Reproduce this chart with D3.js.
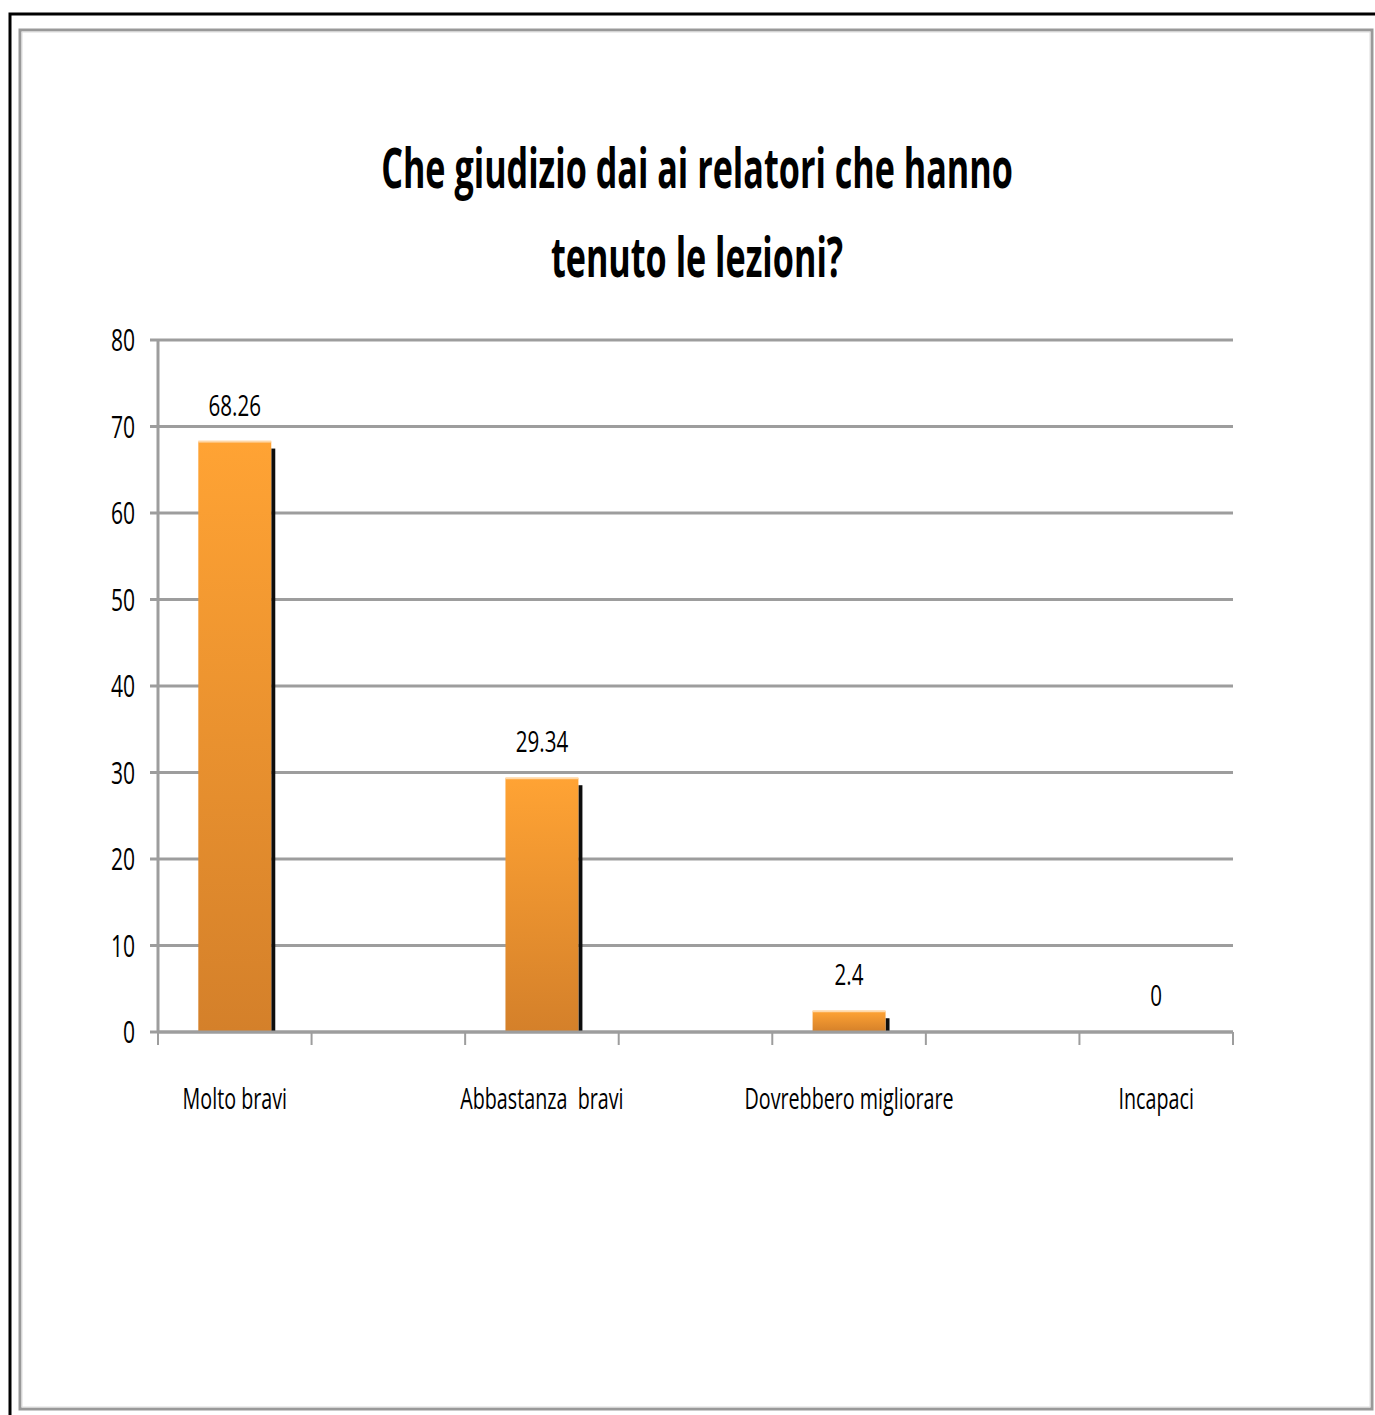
<!DOCTYPE html>
<html>
<head>
<meta charset="utf-8">
<script src="https://cdn.jsdelivr.net/npm/d3@7"></script>
<style>
  body { margin: 0; background: #fff; }
  text { font-family: "Open Sans", sans-serif; fill: #000; white-space: pre; }
</style>
</head>
<body>
<svg id="chart"></svg>
<script>
const categories = ["Molto bravi", "Abbastanza  bravi", "Dovrebbero migliorare", "Incapaci"];
const values = [68.26, 29.34, 2.4, 0];
const valueLabels = ["68.26", "29.34", "2.4", "0"];
const yTicks = [0, 10, 20, 30, 40, 50, 60, 70, 80];
const titleLines = ["Che giudizio dai ai relatori che hanno", "tenuto le lezioni?"];

const width = 1375;
const height = 1415;
const plot = { left: 158, right: 1233, top: 340, bottom: 1032 };

const svg = d3.select("#chart").attr("width", width).attr("height", height);

// gradient for bars
const defs = svg.append("defs");
const grad = defs.append("linearGradient")
  .attr("id", "barGrad")
  .attr("x1", 0).attr("y1", 0).attr("x2", 0).attr("y2", 1);
grad.append("stop").attr("offset", "0%").attr("stop-color", "#ffa334");
grad.append("stop").attr("offset", "100%").attr("stop-color", "#d4802a");
defs.append("filter").attr("id", "blur")
  .append("feGaussianBlur").attr("stdDeviation", 0.6);

// frames
svg.append("rect")
  .attr("x", 10).attr("y", 14)
  .attr("width", width).attr("height", height)
  .attr("fill", "none").attr("stroke", "#000").attr("stroke-width", 3);
svg.append("rect")
  .attr("x", 20).attr("y", 30)
  .attr("width", 1352).attr("height", 1379)
  .attr("fill", "#fff").attr("stroke", "#999").attr("stroke-width", 3);
svg.append("rect")
  .attr("x", 22).attr("y", 32)
  .attr("width", 1348).attr("height", 1375)
  .attr("fill", "none").attr("stroke", "#dcdcdc").attr("stroke-width", 1);

// squeezed text helper (narrow font look)
function label(g, x, y, str, size, anchor, sx, weight) {
  g.append("g")
    .attr("transform", `translate(${x},${y}) scale(${sx},1)`)
    .append("text")
    .attr("text-anchor", anchor)
    .attr("font-size", size)
    .attr("font-weight", weight || "normal")
    .text(str);
}

// title
const titleG = svg.append("g");
titleLines.forEach((t, i) => label(titleG, 697, 188 + i * 89, t, 56, "middle", 0.61, "bold"));

const x = d3.scaleBand()
  .domain(categories)
  .range([plot.left, plot.right])
  .paddingInner(0.5)
  .paddingOuter(0);

const y = d3.scaleLinear()
  .domain([0, 80])
  .range([plot.bottom, plot.top]);

// grid lines
svg.append("g")
  .selectAll("line")
  .data(yTicks)
  .join("line")
  .attr("x1", plot.left - 8)
  .attr("x2", plot.right)
  .attr("y1", (d) => y(d))
  .attr("y2", (d) => y(d))
  .attr("stroke", "#9d9d9d")
  .attr("stroke-width", 3);

// y axis line
svg.append("line")
  .attr("x1", plot.left).attr("x2", plot.left)
  .attr("y1", y(80)).attr("y2", y(0))
  .attr("stroke", "#9d9d9d").attr("stroke-width", 3);

// y tick labels
const yLab = svg.append("g");
yTicks.forEach((t) => label(yLab, 135, y(t) + 11, String(t), 31, "end", 0.68));

// x ticks at band edges
const edges = [];
categories.forEach((c) => {
  edges.push(x(c), x(c) + x.bandwidth());
});
svg.append("g")
  .selectAll("line")
  .data(edges)
  .join("line")
  .attr("x1", (d) => d).attr("x2", (d) => d)
  .attr("y1", y(0)).attr("y2", y(0) + 13)
  .attr("stroke", "#9d9d9d").attr("stroke-width", 2);

// bars
const barW = x.bandwidth() * 0.475;
const bars = svg.append("g")
  .selectAll("g")
  .data(categories.map((c, i) => ({ c, v: values[i], l: valueLabels[i] })))
  .join("g");

bars.filter((d) => d.v > 0)
  .append("rect")
  .attr("x", (d) => x(d.c) + x.bandwidth() / 2 + barW / 2)
  .attr("y", (d) => Math.min(y(d.v) + 7, y(0) - 4))
  .attr("width", 4)
  .attr("height", (d) => y(0) - Math.min(y(d.v) + 7, y(0) - 4))
  .attr("fill", "#111")
  .attr("filter", "url(#blur)");

bars.filter((d) => d.v > 0)
  .append("rect")
  .attr("x", (d) => x(d.c) + x.bandwidth() / 2 - barW / 2)
  .attr("y", (d) => y(d.v))
  .attr("width", barW)
  .attr("height", (d) => y(0) - y(d.v))
  .attr("fill", "url(#barGrad)");

bars.filter((d) => d.v > 0)
  .append("rect")
  .attr("x", (d) => x(d.c) + x.bandwidth() / 2 - barW / 2)
  .attr("y", (d) => y(d.v) - 1)
  .attr("width", barW)
  .attr("height", 2)
  .attr("fill", "#ffd8a8");

// redraw the x axis line over bars
svg.append("line")
  .attr("x1", plot.left).attr("x2", plot.right)
  .attr("y1", y(0)).attr("y2", y(0))
  .attr("stroke", "#9d9d9d").attr("stroke-width", 3);

// value labels
const vLab = svg.append("g");
categories.forEach((c, i) => {
  label(vLab, x(c) + x.bandwidth() / 2, y(values[i]) - 26, valueLabels[i], 29, "middle", 0.71);
});

// category labels
const cLab = svg.append("g");
categories.forEach((c) => {
  label(cLab, x(c) + x.bandwidth() / 2, 1109, c, 29, "middle", 0.68);
});
</script>
</body>
</html>
